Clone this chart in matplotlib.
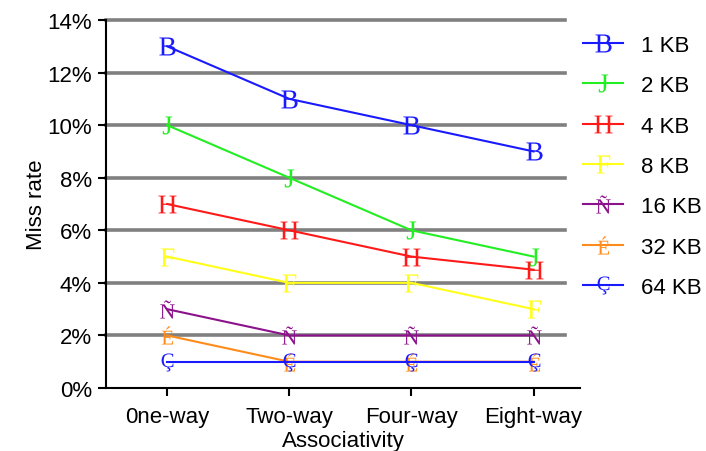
import matplotlib
matplotlib.use("Agg")
import matplotlib.pyplot as plt
from matplotlib.ticker import FuncFormatter

plt.rcParams['font.family'] = ['Liberation Sans', 'DejaVu Sans']
plt.rcParams['mathtext.fontset'] = 'custom'
plt.rcParams['mathtext.rm'] = 'Liberation Serif'

assoc = ['0ne-way', 'Two-way', 'Four-way', 'Eight-way']
sizes = ['1 KB', '2 KB', '4 KB', '8 KB', '16 KB', '32 KB', '64 KB']
kb1 = [13, 11, 10, 9]
kb2 = [10, 8, 6, 5]
kb4 = [7, 6, 5, 4.5]
kb8 = [5, 4, 4, 3]
kb16 = [3, 2, 2, 2]
kb32 = [2, 1, 1, 1]
kb64 = [1, 1, 1, 1]
series = [kb1, kb2, kb4, kb8, kb16, kb32, kb64]
colors = ['#1a1aff', '#22ee22', '#ff1a1a', '#ffff1a', '#8b128b', '#ff8c1a', '#1a1aff']
glyphs = ['B', 'J', 'H', 'F', 'Ñ', 'É', 'Ç']

fig = plt.figure(figsize=(7.06, 4.52), dpi=100)
ax = fig.add_axes([106/706, 1-389/452, (580-106)/706, (389-21)/452])

for y in range(2, 15, 2):
    ax.axhline(y, xmin=0, xmax=(565-106)/(580-106), color='#808080', lw=2.6,
               zorder=0, clip_on=False)

x = list(range(len(assoc)))
for vals, c, g, lab in zip(series, colors, glyphs, sizes):
    ax.plot(x, vals, color=c, lw=1.5, marker=r'$\mathrm{%s}$' % g,
            markersize=13, markeredgewidth=0, label=lab, clip_on=False)

ax.set_xlim(-0.5, 3.38)
ax.set_ylim(0, 14)
ax.set_yticks(range(0, 15, 2))
ax.yaxis.set_major_formatter(FuncFormatter(lambda v, p: '%d%%' % v))
ax.set_xticks(x)
ax.set_xticklabels(assoc)
ax.tick_params(labelsize=16, length=6, width=1.5, color='black', pad=4)
ax.tick_params(axis='x', pad=7)
ax.spines['top'].set_visible(False)
ax.spines['right'].set_visible(False)
ax.spines['left'].set_linewidth(1.5)
ax.spines['bottom'].set_linewidth(1.5)
ax.set_ylabel('Miss rate', fontsize=16, labelpad=0)
ax.set_xlabel('Associativity', fontsize=16, labelpad=2)

ax.legend(loc='upper left', bbox_to_anchor=(574/706, 1-27/452), bbox_transform=fig.transFigure,
          frameon=False, fontsize=16, handlelength=1.8, labelspacing=0.87, handletextpad=0.8,
          borderaxespad=0)

fig.savefig('out.png', dpi=100)
